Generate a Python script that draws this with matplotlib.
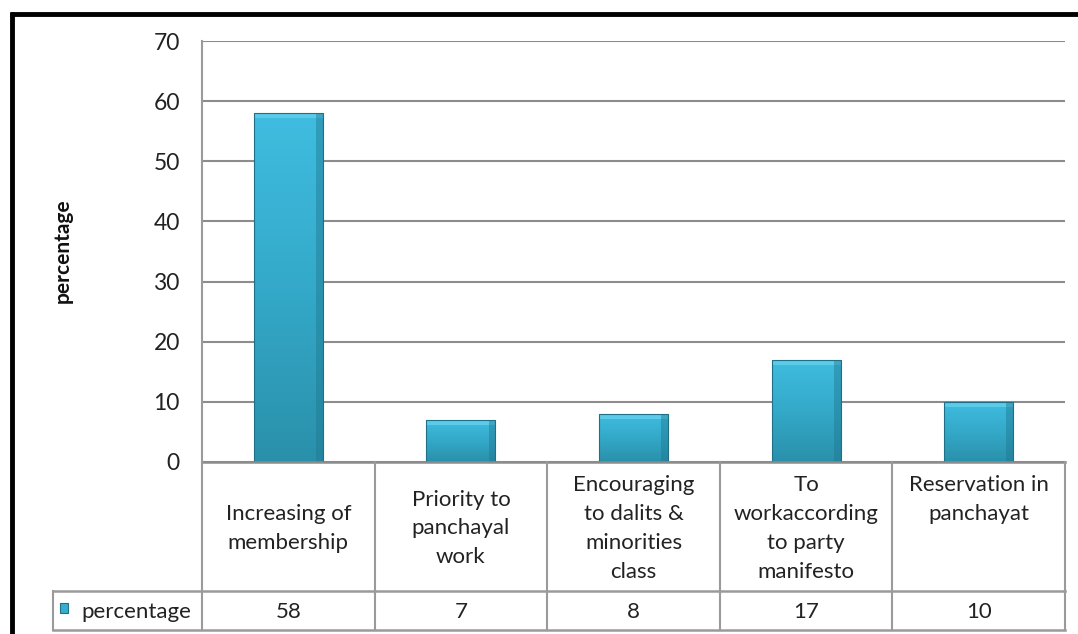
import matplotlib.pyplot as plt
import numpy as np
from matplotlib.colors import LinearSegmentedColormap

# data
categories = ["Increasing of\nmembership",
              "Priority to\npanchayal\nwork",
              "Encouraging\nto dalits &\nminorities\nclass",
              "To\nworkaccording\nto party\nmanifesto",
              "Reservation in\npanchayat\n \n "]
values = [58, 7, 8, 17, 10]
series_name = "percentage"
yticks = [0, 10, 20, 30, 40, 50, 60, 70]

plt.rcParams['font.family'] = ['Lato', 'DejaVu Sans']

W, H = 1078, 634
fig = plt.figure(figsize=(W / 100, H / 100), dpi=100)
fig.patch.set_facecolor('white')

# plot area (pixel layout of the reference)
ax = fig.add_axes([202 / W, 1 - 462 / H, (1065 - 202) / W, (462 - 41) / H])
n = len(values)
x = np.arange(n)

cmap = LinearSegmentedColormap.from_list('bar', ['#2a90aa', '#34a9c9', '#3fbde0'])
grad = np.linspace(0, 1, 256).reshape(-1, 1)
bars = ax.bar(x, values, width=0.4, color='none', edgecolor='#1f6f86', linewidth=0.8, zorder=3)
for b in bars:
    x0, w, h = b.get_x(), b.get_width(), b.get_height()
    im = ax.imshow(grad, extent=[x0, x0 + w, 0, h], origin='lower', aspect='auto',
                   cmap=cmap, zorder=2)
    im.set_clip_path(b)
    # bevel highlight on top and darker right strip
    ax.fill_between([x0, x0 + w], h - 0.8, h, color='#5ccbea', lw=0, zorder=2.5)
    ax.fill_between([x0 + w * 0.9, x0 + w], 0, h, color='#1f7891', alpha=0.45, lw=0, zorder=2.5)

ax.set_xlim(-0.5, n - 0.5)
ax.set_ylim(0, 70)
ax.set_yticks(yticks)
ax.set_xticks([])
ax.tick_params(axis='y', length=0, pad=16, labelsize=16.5, labelcolor='#222222')
ax.yaxis.grid(True, color='#8c8c8c', linewidth=1.5)
ax.set_axisbelow(True)
for s in ['top', 'right', 'bottom']:
    ax.spines[s].set_visible(False)
ax.spines['left'].set_color('#9a9a9a')
ax.spines['left'].set_linewidth(1.5)

fig.text(63 / W, 1 - 251 / H, 'percentage', rotation=90, ha='center', va='center',
         fontsize=15, fontweight='bold', color='#111111')

# data table under the chart, drawn in pixel coordinates
tax = fig.add_axes([0, 0, 1, 1], zorder=5)
tax.set_xlim(0, W)
tax.set_ylim(H, 0)
tax.axis('off')

edges = ax.transData.transform(np.c_[np.arange(n + 1) - 0.5, np.zeros(n + 1)])[:, 0]
centers = (edges[:-1] + edges[1:]) / 2
lc = '#9a9a9a'
row_top, row_mid, row_bot, leg_left = 462, 591, 630, 53
tax.plot([edges[0], edges[-1]], [row_top, row_top], color='#8c8c8c', lw=1.8)
for e in edges:
    tax.plot([e, e], [row_top, row_bot], color=lc, lw=1.5)
tax.plot([leg_left, edges[-1]], [row_mid, row_mid], color=lc, lw=1.8)
tax.plot([leg_left, edges[-1]], [row_bot, row_bot], color=lc, lw=1.8)
tax.plot([leg_left, leg_left], [row_mid, row_bot], color=lc, lw=1.5)

for c, lab, v in zip(centers, categories, values):
    tax.text(c, (row_top + row_mid) / 2 + 2, lab, ha='center', va='center',
             fontsize=16, linespacing=1.55, color='#222222')
    tax.text(c, (row_mid + row_bot) / 2 + 1, str(v), ha='center', va='center',
             fontsize=16, color='#222222')

# legend key in the table
tax.add_patch(plt.Rectangle((60, 603), 8, 10, facecolor='#37aed0', edgecolor='#1f6f86', lw=0.8))
tax.text(81, (row_mid + row_bot) / 2 + 1, series_name, ha='left', va='center',
         fontsize=16, color='#222222')

# black frame on top and left
tax.plot([10, W], [13.5, 13.5], color='black', lw=3.5, solid_capstyle='butt')
tax.plot([11.5, 11.5], [12, H], color='black', lw=3.5, solid_capstyle='butt')

fig.savefig('out.png', dpi=100)
